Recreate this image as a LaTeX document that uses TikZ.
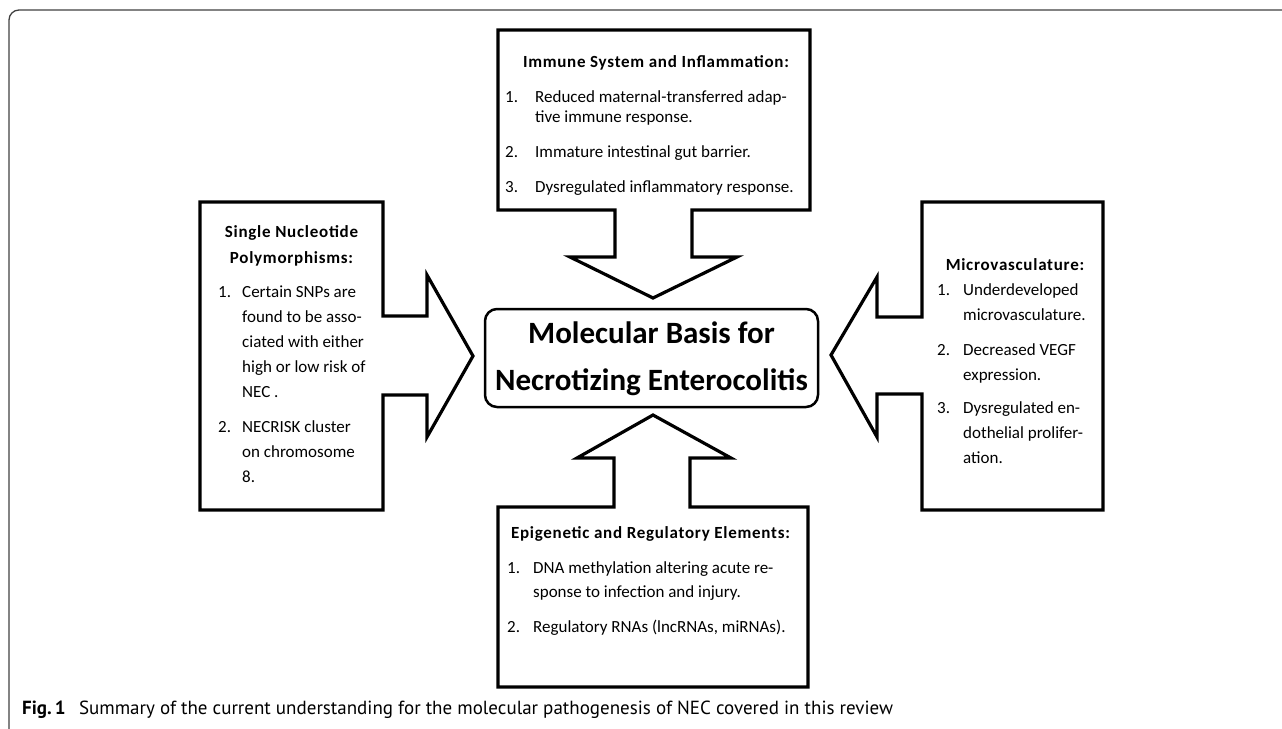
\documentclass[tikz,border=0pt]{standalone}
\usepackage{fontspec}
\setmainfont{Carlito}
\newfontfamily\ttlfont[LetterSpace=4.3]{Carlito}
\newfontfamily\capfont{PT Sans}
\begin{document}
\begin{tikzpicture}[x=1pt,y=-1pt,
  frameline/.style={line width=1.3, draw=black!75, rounded corners=10},
  boxline/.style={line width=3.2, draw=black, line join=miter, fill=white},
  itm/.style={anchor=base west, inner sep=0, font=\fontsize{17}{20}\selectfont},
  ttl/.style={anchor=base, inner sep=0, font=\ttlfont\bfseries\fontsize{17}{20}\selectfont},
  big/.style={anchor=base, inner sep=0, font=\bfseries\fontsize{31}{36}\selectfont}]
\useasboundingbox (0,0) rectangle (1282,728);
% outer frame
\draw[frameline] (9,760) -- (9,10) -- (1310,10);
% top box with down arrow
\draw[boxline] (498,30) -- (810,30) -- (810,210) -- (692,210) -- (692,257) -- (737,257) -- (653,298) -- (570,257) -- (615,257) -- (615,210) -- (498,210) -- cycle;
% left box with right arrow
\draw[boxline] (200,202) -- (383,202) -- (383,316) -- (427,316) -- (427,275) -- (473,356) -- (427,437) -- (427,395) -- (383,395) -- (383,510) -- (200,510) -- cycle;
% right box with left arrow
\draw[boxline] (922,202) -- (1103,202) -- (1103,510) -- (922,510) -- (922,394) -- (877,394) -- (877,437) -- (831,355) -- (877,277) -- (877,317) -- (922,317) -- cycle;
% bottom box with up arrow
\draw[boxline] (498,687) -- (498,507) -- (614,507) -- (614,458) -- (577,458) -- (653,415) -- (731,458) -- (690,458) -- (690,507) -- (808,507) -- (808,687) -- cycle;
% centre box
\node[draw, line width=2.5, rounded corners=12, minimum width=333, minimum height=98, inner sep=0] (core) at (651.5,358) {};
\node[big] (core1) at (651.5,343) {Molecular Basis for};
\node[big] (core2) at (651.5,390) {Necrotizing Enterocolitis};
% top texts
\node[ttl] (tt) at (656,67) {Immune System and Inflammation:};
\node[itm] (tn1) at (505,102) {1.};
\node[itm] (ta1) at (535,102) {Reduced maternal-transferred adap-};
\node[itm] (ta2) at (535,122) {tive immune response.};
\node[itm] (tn2) at (505,157) {2.};
\node[itm] (tb1) at (535,157) {Immature intestinal gut barrier.};
\node[itm] (tn3) at (505,192) {3.};
\node[itm] (tc1) at (535,192) {Dysregulated inflammatory response.};
% left texts
\node[ttl] (lt1) at (291.5,237) {Single Nucleotide};
\node[ttl] (lt2) at (291.5,263) {Polymorphisms:};
\node[itm] (ln1) at (218,297) {1.};
\node[itm] (la1) at (242,297) {Certain SNPs are};
\node[itm] (la2) at (242,322) {found to be asso-};
\node[itm] (la3) at (242,347) {ciated with either};
\node[itm] (la4) at (242,372) {high or low risk of};
\node[itm] (la5) at (242,397) {NEC .};
\node[itm] (ln2) at (218,432) {2.};
\node[itm] (lb1) at (242,432) {NECRISK cluster};
\node[itm] (lb2) at (242,457) {on chromosome};
\node[itm] (lb3) at (242,482) {8.};
% right texts
\node[ttl] (rt) at (1015,270) {Microvasculature:};
\node[itm] (rn1) at (937,295) {1.};
\node[itm] (ra1) at (963,295) {Underdeveloped};
\node[itm] (ra2) at (963,320) {microvasculature.};
\node[itm] (rn2) at (937,355) {2.};
\node[itm] (rb1) at (963,355) {Decreased VEGF};
\node[itm] (rb2) at (963,380) {expression.};
\node[itm] (rn3) at (937,413) {3.};
\node[itm] (rc1) at (963,413) {Dysregulated en-};
\node[itm] (rc2) at (963,438) {dothelial prolifer-};
\node[itm] (rc3) at (963,463) {ation.};
% bottom texts
\node[ttl] (bt) at (650.5,538) {Epigenetic and Regulatory Elements:};
\node[itm] (bn1) at (507,573) {1.};
\node[itm] (ba1) at (533,573) {DNA methylation altering acute re-};
\node[itm] (ba2) at (533,597) {sponse to infection and injury.};
\node[itm] (bn2) at (507,632) {2.};
\node[itm] (bb1) at (533,632) {Regulatory RNAs (lncRNAs, miRNAs).};
% caption
\node[anchor=base west, inner sep=0, font=\capfont\fontsize{19}{22}\selectfont] (cap) at (22,714) {\textbf{Fig.\,1}\hspace{0.7em}Summary of the current understanding for the molecular pathogenesis of NEC covered in this review};
\end{tikzpicture}
\end{document}
